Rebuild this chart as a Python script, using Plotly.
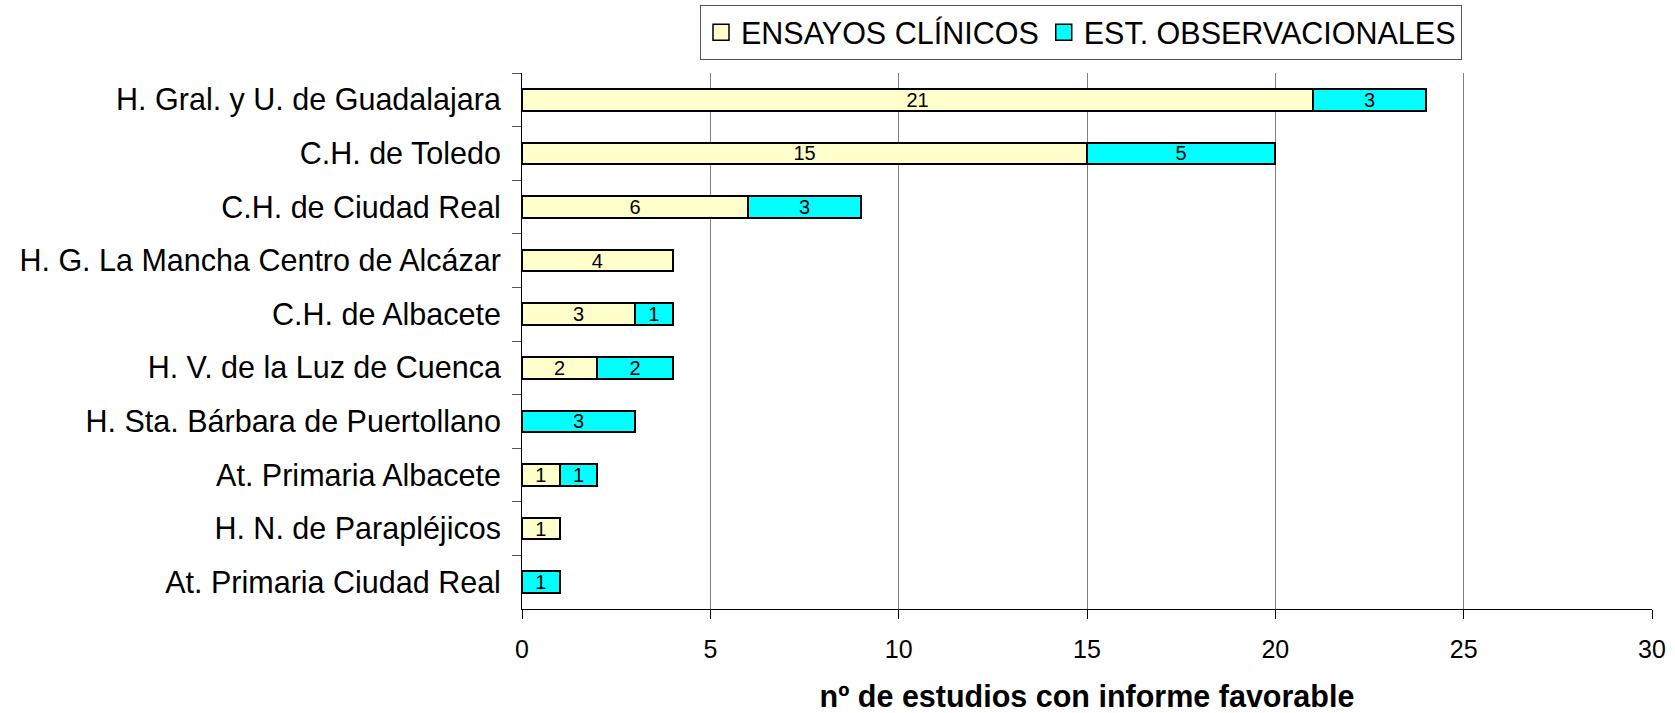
import plotly.graph_objects as go

categories = [
    "H. Gral. y U. de Guadalajara",
    "C.H. de Toledo",
    "C.H. de Ciudad Real",
    "H. G. La Mancha Centro de Alcázar",
    "C.H. de Albacete",
    "H. V. de la Luz de Cuenca",
    "H. Sta. Bárbara de Puertollano",
    "At. Primaria Albacete",
    "H. N. de Parapléjicos",
    "At. Primaria Ciudad Real",
]
ensayos = [21, 15, 6, 4, 3, 2, 0, 1, 1, 0]
observacionales = [3, 5, 3, 0, 1, 2, 3, 1, 0, 1]
series_names = ["ENSAYOS CLÍNICOS", "EST. OBSERVACIONALES"]
series_colors = ["#FFFFCC", "#00FFFF"]
x_ticks = [0, 5, 10, 15, 20, 25, 30]

FONT = "Arial, Liberation Sans, sans-serif"
BIG = 30.5


def nz(vals):
    return [v if v else None for v in vals]


fig = go.Figure()
for name, vals, color in zip(series_names, [ensayos, observacionales], series_colors):
    fig.add_trace(go.Bar(
        y=categories,
        x=nz(vals),
        name=name,
        legendgroup=name,
        showlegend=False,
        orientation="h",
        marker=dict(color=color, line=dict(color="black", width=2)),
        text=[str(v) if v else "" for v in vals],
        textposition="inside",
        insidetextanchor="middle",
        textangle=0,
        constraintext="none",
        textfont=dict(family=FONT, size=20, color="black"),
        hoverinfo="x+y+name",
    ))
    # legend entry with a larger square key, same look as the bars
    fig.add_trace(go.Scatter(
        x=[None], y=[categories[0]],
        mode="markers",
        name=name,
        legendgroup=name,
        showlegend=True,
        marker=dict(symbol="square", size=16, color=color,
                    line=dict(color="black", width=1.5)),
        hoverinfo="skip",
    ))

fig.update_layout(
    barmode="stack",
    bargap=0.6,
    width=1675,
    height=713,
    margin=dict(l=522, r=23, t=73, b=104, autoexpand=False),
    paper_bgcolor="white",
    plot_bgcolor="white",
    font=dict(family=FONT, color="black"),
    legend=dict(
        orientation="h",
        xref="container", yref="container",
        x=700 / 1675, y=1 - 5 / 713,
        xanchor="left", yanchor="top",
        font=dict(family=FONT, size=BIG, color="black"),
        bordercolor="#555555", borderwidth=1,
        bgcolor="white",
        traceorder="normal",
        itemsizing="trace",
        itemwidth=30,
        tracegroupgap=0,
    ),
    xaxis=dict(
        range=[0, 30],
        tickvals=x_ticks,
        ticktext=[str(t) for t in x_ticks],
        showgrid=True,
        gridcolor="#808080",
        gridwidth=1,
        zeroline=False,
        showline=True,
        linecolor="black",
        linewidth=1,
        ticks="outside",
        ticklen=9,
        tickcolor="black",
        tickfont=dict(family=FONT, size=25, color="black"),
        ticklabelstandoff=9,
        automargin=False,
        title=dict(
            text="<b>nº de estudios con informe favorable</b>",
            font=dict(family=FONT, size=BIG, color="black"),
            standoff=26,
        ),
    ),
    yaxis=dict(
        range=[len(categories) - 0.5, -0.5],
        autorange=False,
        showgrid=False,
        showline=True,
        linecolor="black",
        linewidth=1,
        ticks="outside",
        tickson="boundaries",
        ticklen=9,
        tickcolor="#555555",
        tickfont=dict(family=FONT, size=BIG, color="black"),
        ticklabelstandoff=14,
        automargin=False,
    ),
)

fig.write_html(
    "out.html",
    config={"displayModeBar": False},
    post_script="document.body.style.margin='0';document.body.style.overflow='hidden';",
)
